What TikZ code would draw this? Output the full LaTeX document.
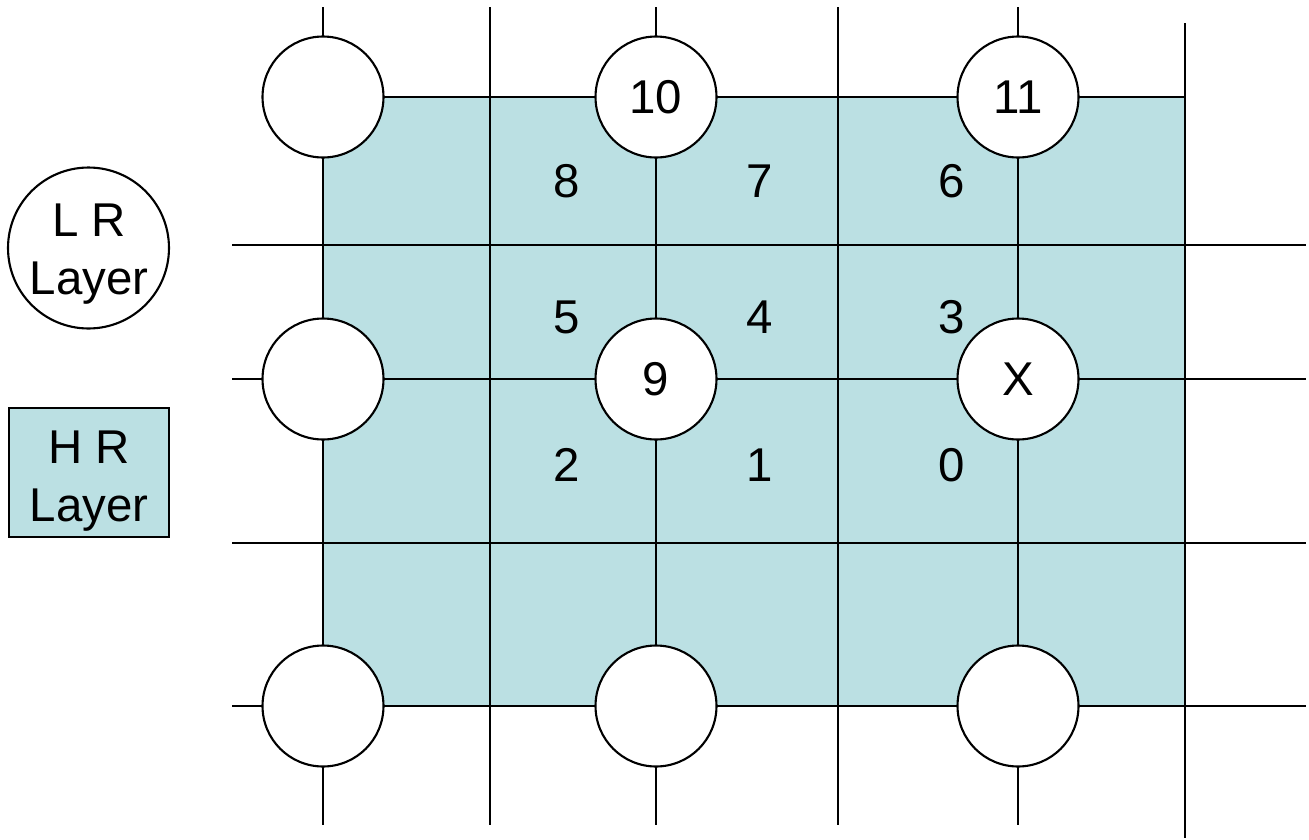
\documentclass[tikz,border=0pt]{standalone}
\usepackage{fontspec}
\setmainfont{Liberation Sans}
\usepackage{xcolor}
\definecolor{hrfill}{HTML}{BBE0E3}
\tikzset{
  gridline/.style={line width=1.1pt, color=black},
  lrnode/.style={circle, draw=black, fill=white, line width=1.2pt, minimum size=2.42cm, inner sep=0pt},
  keytext/.style={align=center, inner sep=0pt},
  every node/.append style={font=\fontsize{27}{33}\selectfont}
}
\begin{document}
\begin{tikzpicture}[x=0.02cm, y=-0.02cm]
\useasboundingbox (0,0) rectangle (1309,839);
% high resistance layer
\fill[hrfill] (323,97) rectangle (1185,706);
% grid
\foreach \gx in {323,490,656,838,1018} \draw[gridline] (\gx,7) -- (\gx,825);
\draw[gridline] (1185,23) -- (1185,838);
\foreach \gy in {245,379,543,706} \draw[gridline] (232,\gy) -- (1306,\gy);
\draw[draw=black, line width=1.4pt] (323,97) rectangle (1185,706);
% low resistance nodes
\node[lrnode] (tl) at (323,97) {};
\node[lrnode] (n10) at (656,97) {10};
\node[lrnode] (n11) at (1018,97) {11};
\node[lrnode] (ml) at (323,379) {};
\node[lrnode] (n9) at (656,379) {9};
\node[lrnode] (nx) at (1018,379) {X};
\node[lrnode] (bl) at (323,706) {};
\node[lrnode] (bm) at (656,706) {};
\node[lrnode] (br) at (1018,706) {};
% cell numbers
\node (c8) at (567,181) {8};
\node (c7) at (760,181) {7};
\node (c6) at (952,181) {6};
\node (c5) at (567,317) {5};
\node (c4) at (760,317) {4};
\node (c3) at (952,317) {3};
\node (c2) at (567,465) {2};
\node (c1) at (760,465) {1};
\node (c0) at (952,465) {0};
% legend
\node[circle, draw=black, fill=white, line width=1.2pt, minimum size=3.22cm, inner sep=0pt] (lrkey) at (88.5,248) {};
\node[keytext] (lrtext) at (89,254) {L R\\Layer};
\node[draw=black, fill=hrfill, line width=1.2pt, minimum width=3.2cm, minimum height=2.58cm, inner sep=0pt] (hrkey) at (89,472.5) {};
\node[keytext] (hrtext) at (89,481) {H R\\Layer};
\end{tikzpicture}
\end{document}
